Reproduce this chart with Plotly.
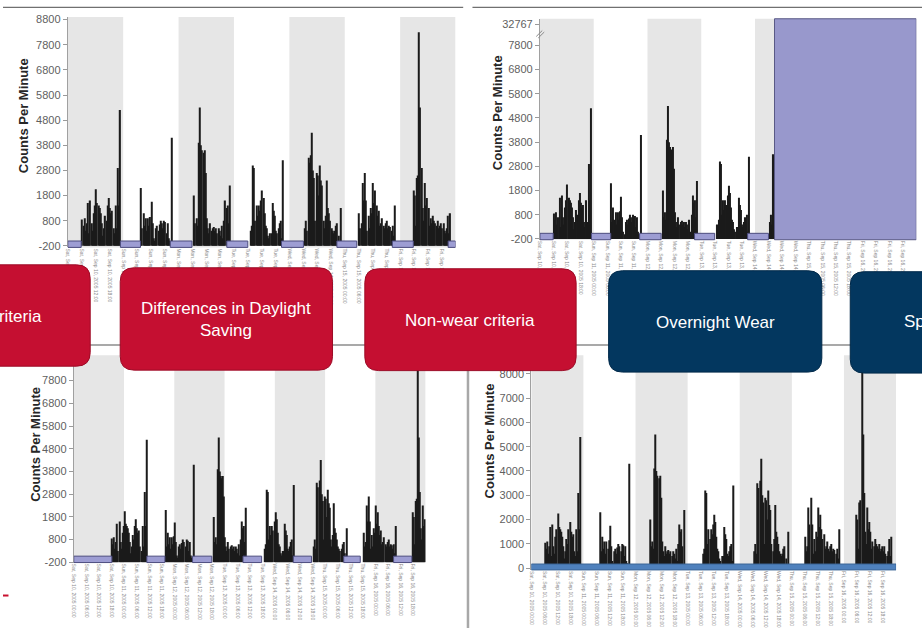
import plotly.graph_objects as go

W, H = 922, 634

# ---------------- data ----------------
day_labels = ["Sat, Sep 10, 2005", "Sun, Sep 11, 2005", "Mon, Sep 12, 2005", "Tue, Sep 13, 2005",
              "Wed, Sep 14, 2005", "Thu, Sep 15, 2005", "Fri, Sep 16, 2005"]
tick_times = ["00:00", "06:00", "12:00", "18:00"]

# counts per minute, 30-minute slots (48 per day)
cpm_sat = [0, 0, 0, 0, 0, 0, 0, 0, 0, 0, 0, 0,
           1050, 800, 1100, 600, 900, 1700, 500, 1800, 900, 600, 1300, 1600, 2250, 1700, 1600, 1500, 1300,
           900, 400, 700, 1200, 1000, 1600, 1900, 1500, 1300, 1400, 700, 500, 1600, 700, 3100, 1600, 5400,
           0, 0]
cpm_sun = [0, 0, 0, 0, 0, 0, 0, 0, 0, 0, 0, 0, 0, 0, 0,
           2300, 700, 1300, 800, 1100, 600, 1100, 800, 1150, 1750, 900, 300, 200, 700, 800, 600, 850, 1000,
           900, 700, 1000, 950, 500, 900, 300, 200, 0, 4300,
           0, 0, 0, 0, 0]
cpm_mon = [0, 0, 0, 0, 0, 0, 0, 0, 0, 0, 0, 0, 0,
           2000, 900, 1100, 800, 4100, 5500, 4000, 3800, 3700, 3800, 2900, 1100, 700, 500, 900, 600, 700,
           750, 600, 700, 500, 700, 600, 400, 800, 300, 1000, 1800, 1500, 1600, 900, 2400,
           0, 0, 0]
cpm_tue = [0, 0, 0, 0, 0, 0, 0, 0, 0, 0, 0, 0, 0, 0,
           600, 800, 3200, 3100, 1000, 1600, 1200, 1600, 1400, 1800, 2200, 1900, 1300, 800, 700, 400, 300,
           500, 500, 1700, 1400, 1200, 600, 500, 700, 900, 1000, 300, 3400,
           0, 0, 0, 0, 0]
cpm_wed = [0, 0, 0, 0, 0, 0, 0, 0, 0, 0, 0, 0, 0,
           700, 1000, 600, 3500, 3300, 3600, 4500, 3000, 2700, 1000, 2900, 2800, 2000, 3200, 2600, 2400,
           1000, 700, 1200, 2600, 1500, 1300, 1000, 700, 600, 500, 600, 800, 900, 400, 0, 1500,
           0, 0, 0]
cpm_thu = [0, 0, 0, 0, 0, 0, 0, 0, 0, 0, 0, 0,
           1300, 700, 900, 2500, 1800, 2900, 1800, 600, 1200, 700, 1500, 1300, 2500, 1700, 2200, 1600, 1200,
           1400, 800, 900, 1100, 800, 700, 900, 1000, 700, 800, 750, 600, 800, 400, 1600,
           0, 0, 0, 0]
cpm_fri = [0, 0, 0, 0, 0, 0, 0, 0, 0, 0, 0,
           2200, 2000, 800, 2700, 2800, 8500, 5500, 3100, 1500, 1000, 2500, 1600, 1900, 1500, 800, 1100, 900,
           1200, 1000, 900, 800, 1000, 700, 800, 900, 700, 900, 600, 500, 700, 1200, 500, 1300,
           0, 0, 0, 0]
week = [cpm_sat, cpm_sun, cpm_mon, cpm_tue, cpm_wed, cpm_thu, cpm_fri]

shaded_days = [0, 2, 4, 6]
nonwear_top_left = [(0, 5.8), (22.8, 31.5), (44.4, 53.8), (68.9, 78.0), (92.6, 102.1),
                    (116.6, 125.2), (140.6, 149.7), (164.8, 168)]
nonwear_top_right = [(0, 5.9), (23.0, 31.6), (44.5, 54.1), (69.0, 78.0), (92.7, 102.0)]
device_error_start = 104.7        # hours, device reports 32767 afterwards
nonwear_bottom_left = [(0, 18.2), (34.9, 43.5), (56.7, 65.9), (80.8, 89.7), (104.8, 113.5),
                       (128.9, 136.8), (152.7, 161.4)]
bottom_left_shift = 12            # hours

ytl_vals = [-200, 800, 1800, 2800, 3800, 4800, 5800, 6800, 7800, 8800]
ytr_vals = [-200, 800, 1800, 2800, 3800, 4800, 5800, 6800, 7800, 8670]
ytr_text = ["-200", "800", "1800", "2800", "3800", "4800", "5800", "6800", "7800", "32767"]
ybl_vals = [-200, 800, 1800, 2800, 3800, 4800, 5800, 6800, 7800]
ybr_vals = [0, 1000, 2000, 3000, 4000, 5000, 6000, 7000, 8000]

box_labels = ["Valid day criteria", "Differences in Daylight<br>Saving", "Non-wear criteria",
              "Overnight Wear", "Spurious Data"]

# ---------------- derived series ----------------
hours, counts = [], []
for d, vals in enumerate(week):
    for s, v in enumerate(vals):
        hours.append(d * 24 + s * 0.5 + 0.25)
        counts.append(v)

tick_vals = [d * 24 + k * 6 for d in range(7) for k in range(4)]
tick_text = [f"{day_labels[d]} {tick_times[k]}" for d in range(7) for k in range(4)]

# ---------------- figure ----------------
fig = go.Figure()
bar_color = "#1b1b1b"

def add_bars(xs, ys, base, ax):
    fig.add_trace(go.Bar(x=xs, y=ys, base=base, width=0.5, xaxis="x" + ax, yaxis="y" + ax,
                         marker=dict(color=bar_color, line=dict(width=0)),
                         showlegend=False, hoverinfo="skip"))

add_bars(hours, counts, -200, "")
tr = [(h, c) for h, c in zip(hours, counts) if h < device_error_start]
add_bars([p[0] for p in tr], [p[1] for p in tr], -200, "2")
bl = [(h + bottom_left_shift, c) for h, c in zip(hours, counts) if h + bottom_left_shift <= 168]
add_bars([p[0] for p in bl], [p[1] for p in bl], -200, "3")
add_bars(hours, counts, 0, "4")

# panel geometry in pixels: (x0, x1, ytop, ybottom)
panels = {
    "": (65, 454, 13.3, 247.3, [-263, 8900]),
    "2": (538.7, 916.3, 15, 239.5, [-230, 8900]),
    "3": (71, 424, 357, 567.5, [-210, 8910]),
    "4": (530, 896, 357, 575, [-70, 8757]),
}
ytick_cfg = {"": (ytl_vals, [str(v) for v in ytl_vals]), "2": (ytr_vals, ytr_text),
             "3": (ybl_vals, [str(v) for v in ybl_vals]), "4": (ybr_vals, [str(v) for v in ybr_vals])}

font_family = "Liberation Sans, Arial, sans-serif"
layout = dict(width=W, height=H, margin=dict(l=0, r=0, t=0, b=0),
              paper_bgcolor="white", plot_bgcolor="white", showlegend=False)
for key, (x0, x1, yt, yb, yr) in panels.items():
    layout["xaxis" + key] = dict(domain=[x0 / W, x1 / W], anchor="y" + key, range=[0, 168],
                                 tickmode="array", tickvals=tick_vals, ticktext=tick_text,
                                 tickangle=90, tickfont=dict(size=5, color="#8a8a8a", family=font_family),
                                 showgrid=False, zeroline=False, showline=False, ticks="")
    tv, tt = ytick_cfg[key]
    layout["yaxis" + key] = dict(domain=[1 - yb / H, 1 - yt / H], anchor="x" + key, range=yr,
                                 tickmode="array", tickvals=tv, ticktext=tt,
                                 tickfont=dict(size=11, color="#5f5f5f", family=font_family),
                                 ticks="outside", ticklen=4, tickcolor="#9a9a9a",
                                 showline=True, linecolor="#a0a0a0", linewidth=1,
                                 showgrid=False, zeroline=False)
fig.update_layout(**layout)

shapes = []
# gray day bands
for key in panels:
    for d in shaded_days:
        shapes.append(dict(type="rect", xref="x" + key, yref=("y" + key) + " domain",
                           x0=d * 24, x1=d * 24 + 24, y0=0, y1=1, fillcolor="#e6e6e6",
                           line=dict(width=0), layer="below"))

def band_h(key, px=6.5):
    x0, x1, yt, yb, yr = panels[key]
    return px / (yb - yt)

purple_fill, purple_line = "#9d9dd3", "#4c4c7e"
# device error block in top-right
shapes.append(dict(type="rect", xref="x2", yref="y2 domain", x0=device_error_start, x1=168,
                   y0=0, y1=1, fillcolor="#9898cc", line=dict(color="#5a5a86", width=1), layer="above"))
for key, intervals in (("", nonwear_top_left), ("2", nonwear_top_right), ("3", nonwear_bottom_left)):
    for a, b in intervals:
        shapes.append(dict(type="rect", xref="x" + key, yref=("y" + key) + " domain",
                           x0=a, x1=b, y0=0, y1=band_h(key), fillcolor=purple_fill,
                           line=dict(color=purple_line, width=1), layer="above"))
# worn-device baseline in bottom-right
shapes.append(dict(type="rect", xref="x4", yref="y4 domain", x0=0, x1=168, y0=0, y1=band_h("4", 6),
                   fillcolor="#4f81bd", line=dict(color="#3b6596", width=1), layer="above"))

def P(x, y):
    return f"{x / W:.5f},{1 - y / H:.5f}"

def pline(x0, y0, x1, y1, color, width):
    return dict(type="line", xref="paper", yref="paper", x0=x0 / W, y0=1 - y0 / H, x1=x1 / W, y1=1 - y1 / H,
                line=dict(color=color, width=width), layer="above")

# slide decorations
shapes.append(pline(0, 346.5, W, 346.5, "#8c8c8c", 1.5))
shapes.append(pline(0, 3.5, 461.7, 3.5, "#707070", 1.3))
shapes.append(pline(471, 3.5, W, 3.5, "#707070", 1.3))
shapes.append(pline(466.5, 372, 466.5, H, "#a8a8a8", 2.5))
shapes.append(pline(0, 601, 5.5, 601, "#c8102e", 2))
shapes.append(pline(535, 33, 541, 27, "#8a8a8a", 1))
shapes.append(pline(537, 34.5, 543, 28.5, "#8a8a8a", 1))

def rrect(x0, y0, x1, y1, r):
    return ("M" + P(x0 + r, y0) + " L" + P(x1 - r, y0) + " Q" + P(x1, y0) + " " + P(x1, y0 + r) +
            " L" + P(x1, y1 - r) + " Q" + P(x1, y1) + " " + P(x1 - r, y1) +
            " L" + P(x0 + r, y1) + " Q" + P(x0, y1) + " " + P(x0, y1 - r) +
            " L" + P(x0, y0 + r) + " Q" + P(x0, y0) + " " + P(x0 + r, y0) + " Z")

red, red_edge = "#c50f31", "#9c0b26"
navy, navy_edge = "#03375f", "#012949"
boxes = [(-126, 265, 87.5, 368, red, red_edge),
         (117.6, 268, 330.6, 372, red, red_edge),
         (363, 269, 575, 372.5, red, red_edge),
         (607.6, 271, 821.5, 374, navy, navy_edge),
         (850, 272, 1063, 375, navy, navy_edge)]
for x0, y0, x1, y1, fc, lc in boxes:
    shapes.append(dict(type="path", xref="paper", yref="paper", path=rrect(x0, y0, x1, y1, 14),
                       fillcolor=fc, line=dict(color=lc, width=1), layer="above"))
fig.update_layout(shapes=shapes)

ann = []
def A(x, y, text, **kw):
    d = dict(xref="paper", yref="paper", x=x / W, y=1 - y / H, text=text, showarrow=False,
             xanchor="center", yanchor="middle")
    d.update(kw)
    ann.append(d)

title_font = dict(size=13, color="#262626", family="Liberation Sans, Arial, sans-serif")
for (x, y) in [(20, 113), (495.5, 110), (33, 447), (489, 444)]:
    A(x, y, "<b>Counts Per Minute</b>", textangle=-90, font=title_font)

box_font = dict(size=17, color="white", family="Liberation Sans, Arial, sans-serif")
A(41, 318, box_labels[0], xanchor="right", font=box_font)
A(224, 321, box_labels[1], font=box_font)
A(469, 321.7, box_labels[2], font=box_font)
A(714.5, 323.3, box_labels[3], font=box_font)
A(901.5, 323, box_labels[4], xanchor="left", font=box_font)
fig.update_layout(annotations=ann)

fig.write_html("out.html")
